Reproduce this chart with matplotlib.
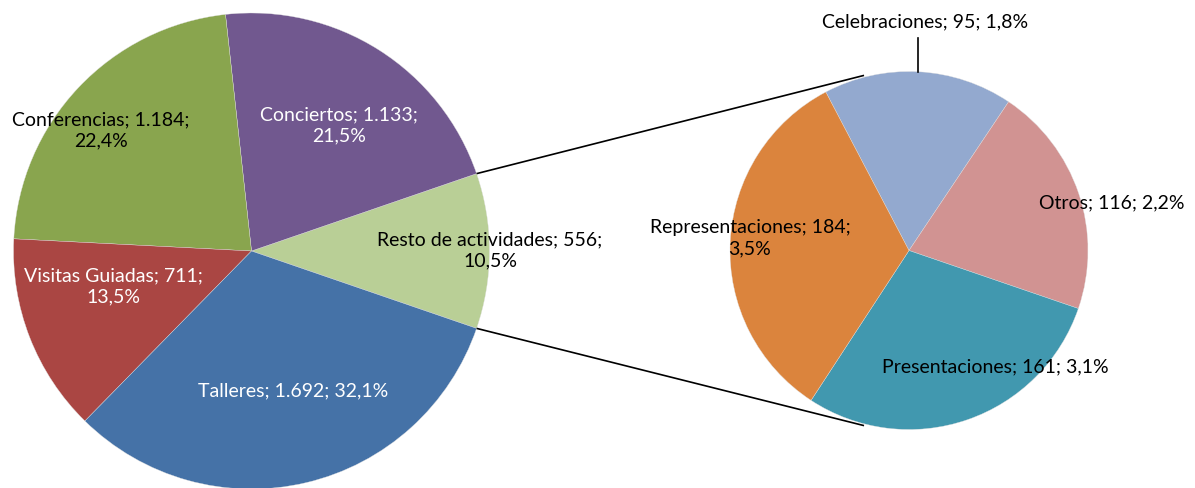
import numpy as np
import matplotlib
matplotlib.use("Agg")
import matplotlib.pyplot as plt

# ---- data ----
main_labels = ["Resto de actividades", "Conciertos", "Conferencias", "Visitas Guiadas", "Talleres"]
main_values = [556, 1133, 1184, 711, 1692]
main_colors = ["#B9CF96", "#71588F", "#89A54E", "#AA4643", "#4572A7"]
main_text_colors = ["black", "white", "black", "white", "white"]
main_label_text = ["Resto de actividades; 556;\n10,5%", "Conciertos; 1.133;\n21,5%",
                   "Conferencias; 1.184;\n22,4%", "Visitas Guiadas; 711;\n13,5%",
                   "Talleres; 1.692; 32,1%"]

sec_labels = ["Celebraciones", "Otros", "Presentaciones", "Representaciones"]
sec_values = [95, 116, 161, 184]
sec_colors = ["#93A9CF", "#D19392", "#4198AF", "#DB843D"]
sec_label_text = ["Celebraciones; 95; 1,8%", "Otros; 116; 2,2%",
                  "Presentaciones; 161; 3,1%", "Representaciones; 184;\n3,5%"]

W, H = 1195, 488
plt.rcParams['font.family'] = ['Lato', 'DejaVu Sans']
fig = plt.figure(figsize=(W / 100, H / 100), dpi=100)
ax = fig.add_axes([0, 0, 1, 1])
ax.set_xlim(0, W)
ax.set_ylim(0, H)
ax.set_aspect('equal')
ax.axis('off')

def py(y):
    return H - y

# main pie
mc = (251.5, py(251))
mr = 238
resto_span = main_values[0] / sum(main_values) * 360
wedges_m, _ = ax.pie(main_values, colors=main_colors, center=mc, radius=mr,
                     startangle=-resto_span / 2, counterclock=True,
                     wedgeprops=dict(edgecolor="#E0E0E0", linewidth=0.25))

# secondary pie
sc = (909, py(250.5))
sr = 179
wedges_s, _ = ax.pie(sec_values, colors=sec_colors, center=sc, radius=sr,
                     startangle=117.7, counterclock=False,
                     wedgeprops=dict(edgecolor="#E0E0E0", linewidth=0.25))
ax.set_xlim(0, W)
ax.set_ylim(0, H)

# connector lines
for sign in (1, -1):
    a1 = np.deg2rad(sign * resto_span / 2)
    a2 = np.deg2rad(sign * 104.4)
    p1 = (mc[0] + mr * np.cos(a1), mc[1] + mr * np.sin(a1))
    p2 = (sc[0] + sr * 1.01 * np.cos(a2), sc[1] + sr * 1.01 * np.sin(a2))
    ax.plot([p1[0], p2[0]], [p1[1], p2[1]], color="black", lw=1.2, solid_capstyle='butt')

# leader line for Celebraciones
lx = 918
ax.plot([lx, lx], [sc[1] + np.sqrt(sr**2 - (lx - sc[0])**2), py(38)], color="black", lw=1.2)

fs = 14
main_pos = [(490, 250), (339, 125), (101, 130), (113, 286), (293, 391)]
for txt, (x, y), c in zip(main_label_text, main_pos, main_text_colors):
    ax.text(x, py(y), txt, ha="center", va="center", fontsize=fs, color=c, linespacing=1.3)

sec_pos = [(925, 22), (1112, 203), (995, 367), (750, 238)]
for txt, (x, y) in zip(sec_label_text, sec_pos):
    ax.text(x, py(y), txt, ha="center", va="center", fontsize=fs, color="black", linespacing=1.3)

fig.savefig("out.png", dpi=100)
